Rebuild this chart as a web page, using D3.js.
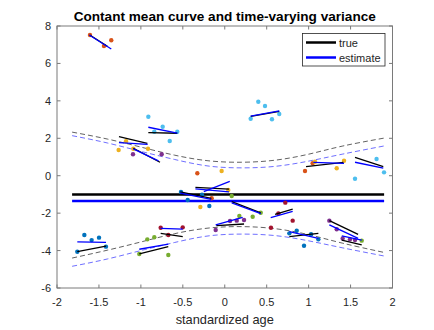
<!DOCTYPE html>
<html>
<head>
<meta charset="utf-8">
<script src="https://cdn.jsdelivr.net/npm/d3@7"></script>
<style>
  body { margin: 0; background: #fff; }
  svg text { font-family: "Liberation Sans", Arial, sans-serif; }
</style>
</head>
<body>
<div id="chart"></div>
<script>
// axis ticks
let xTicks = [-2, -1.5, -1, -0.5, 0, 0.5, 1, 1.5, 2];
let yTicks = [-6, -4, -2, 0, 2, 4, 6, 8];

// population mean lines
let meanX = [-1.82, 1.9];
let meanTrue = [-1, -1];
let meanEst = [-1.35, -1.35];

// variance bands
let bandX = [-1.82, -1.4, -1.0, -0.6, -0.2, 0.2, 0.6, 1.0, 1.4, 1.9];
let trueUpper = [2.33, 1.96, 1.53, 1.10, 0.80, 0.72, 0.83, 1.15, 1.58, 2.01];
let trueLower = [-4.40, -3.98, -3.54, -3.10, -2.80, -2.72, -2.83, -3.15, -3.60, -4.10];
let estUpper = [2.14, 1.75, 1.30, 0.87, 0.52, 0.42, 0.50, 0.78, 1.15, 1.59];
let estLower = [-4.84, -4.45, -4.00, -3.57, -3.22, -3.12, -3.20, -3.48, -3.85, -4.29];

// MATLAB default colour order
let palette = ["#0072BD", "#D95319", "#EDB120", "#7E2F8E", "#77AC30", "#4DBEEE", "#A2142F"];

// observations per subject: [colour index, [[x,y],...]]
let subjPoints = [
    [1, [[-1.607, 7.52], [-1.44, 6.93], [-1.353, 7.24]]],
    [5, [[0.400, 3.955], [0.480, 3.725], [0.309, 3.047], [0.563, 3.015], [0.650, 3.30]]],
    [5, [[-0.911, 3.153], [-0.740, 2.619], [-0.566, 2.352], [-0.656, 1.855], [-0.840, 2.352]]],
    [2, [[-1.265, 1.374], [-1.177, 1.839], [-1.090, 1.443], [-0.915, 1.443]]],
    [3, [[-1.094, 1.144], [-0.752, 1.144]]],
    [0, [[-0.522, -0.87], [-0.271, -1.013], [-0.442, -1.298], [-0.184, -1.618]]],
    [2, [[-0.291, -1.67], [0.042, -0.763], [-0.037, 0.252]]],
    [1, [[-0.327, 0.129], [-0.156, -1.207]]],
    [4, [[0.083, -1.084], [0.174, -2.15], [0.333, -2.19], [0.429, -1.976]]],
    [6, [[0.722, -1.44], [0.639, -2.01], [0.810, -2.40], [0.551, -2.78]]],
    [3, [[-0.108, -2.90], [0.063, -2.42], [0.143, -2.40], [0.230, -2.37]]],
    [0, [[0.770, -3.08], [0.858, -2.94], [1.029, -3.13], [1.116, -3.40], [0.945, -3.74]]],
    [3, [[1.247, -2.40], [1.335, -2.86]]],
    [3, [[1.406, -3.35], [1.493, -3.40], [1.553, -3.44]]],
    [4, [[1.633, -3.47]]],
    [5, [[1.81, 0.893], [1.899, 0.181], [1.553, -0.16]]],
    [1, [[0.957, 0.252], [1.048, 0.663]]],
    [2, [[1.076, 0.749], [1.335, 0.396], [1.422, 0.80]]],
    [0, [[-1.758, -4.06], [-1.674, -3.17], [-1.587, -3.44], [-1.499, -3.31], [-1.416, -3.79]]],
    [4, [[-1.019, -4.18], [-0.923, -3.40], [-0.840, -3.29], [-0.673, -4.24]]],
    [6, [[-0.764, -2.78], [-0.673, -3.17], [-0.501, -2.76]]]
];

// subject trajectories: true (black) and estimated (blue)
let trueSegs = [
    [[-1.61, 7.52], [-1.40, 6.92]],
    [[0.31, 3.17], [0.65, 3.44]],
    [[-0.911, 2.30], [-0.566, 2.27]],
    [[-1.261, 2.085], [-0.923, 1.732]],
    [[-1.09, 1.465], [-0.772, 0.717]],
    [[-0.53, -0.86], [-0.16, -1.21]],
    [[-0.35, -0.62], [0.05, -0.72]],
    [[0.083, -1.39], [0.429, -1.98]],
    [[0.60, -2.06], [0.81, -1.79]],
    [[-0.10, -2.67], [0.23, -2.58]],
    [[0.77, -3.26], [1.116, -3.08]],
    [[1.247, -2.40], [1.59, -3.13]],
    [[1.395, -3.44], [1.633, -3.70]],
    [[1.553, 0.98], [1.89, 0.48]],
    [[0.969, 0.482], [1.414, 0.717]],
    [[-1.758, -4.06], [-1.416, -3.76]],
    [[-1.019, -4.18], [-0.673, -3.79]],
    [[-0.764, -3.08], [-0.501, -3.26]]
];
let estSegs = [
    [[-1.615, 7.52], [-1.353, 6.77]],
    [[0.309, 3.19], [0.650, 3.47]],
    [[-0.911, 2.59], [-0.566, 2.27]],
    [[-1.261, 1.764], [-0.919, 1.679]],
    [[-1.09, 1.43], [-0.79, 0.79]],
    [[-0.53, -0.93], [-0.16, -1.26]],
    [[-0.35, -0.70], [0.05, -0.86]],
    [[-0.25, -0.85], [0.06, -0.30]],
    [[0.083, -1.45], [0.43, -2.02]],
    [[0.548, -2.24], [0.81, -1.90]],
    [[-0.108, -2.63], [0.214, -2.22]],
    [[0.770, -2.99], [1.116, -3.35]],
    [[1.247, -2.63], [1.59, -3.35]],
    [[1.395, -3.22], [1.633, -3.44]],
    [[1.553, 0.72], [1.89, 0.40]],
    [[1.056, 0.717], [1.422, 0.664]],
    [[-1.758, -3.53], [-1.416, -3.56]],
    [[-1.019, -3.93], [-0.673, -3.65]],
    [[-0.764, -2.81], [-0.501, -2.85]]
];

let width = 434, height = 330;
let plot = {left: 57, right: 392.5, top: 26, bottom: 288};
let axisColor = "#262626";

let svg = d3.select("#chart").append("svg")
    .attr("width", width)
    .attr("height", height);

let x = d3.scaleLinear().domain([-2, 2]).range([plot.left, plot.right]);
let y = d3.scaleLinear().domain([-6, 8]).range([plot.bottom, plot.top]);

// axes box with inward ticks on all four sides
let tick = 3.5;
let axes = svg.append("g");
axes.append("rect")
    .attr("x", plot.left).attr("y", plot.top)
    .attr("width", plot.right - plot.left).attr("height", plot.bottom - plot.top)
    .attr("fill", "none").attr("stroke", "#7a7a7a").attr("stroke-width", 1);

xTicks.forEach(function(t){
    axes.append("line").attr("x1", x(t)).attr("x2", x(t))
        .attr("y1", plot.bottom).attr("y2", plot.bottom - tick)
        .attr("stroke", "#7a7a7a");
    axes.append("line").attr("x1", x(t)).attr("x2", x(t))
        .attr("y1", plot.top).attr("y2", plot.top + tick)
        .attr("stroke", "#7a7a7a");
    axes.append("text").attr("x", x(t)).attr("y", plot.bottom + 18)
        .attr("text-anchor", "middle").attr("fill", axisColor)
        .style("font-size", "11px").text(t);
});
yTicks.forEach(function(t){
    axes.append("line").attr("y1", y(t)).attr("y2", y(t))
        .attr("x1", plot.left).attr("x2", plot.left + tick)
        .attr("stroke", "#7a7a7a");
    axes.append("line").attr("y1", y(t)).attr("y2", y(t))
        .attr("x1", plot.right).attr("x2", plot.right - tick)
        .attr("stroke", "#7a7a7a");
    axes.append("text").attr("x", plot.left - 6).attr("y", y(t) + 4)
        .attr("text-anchor", "end").attr("fill", axisColor)
        .style("font-size", "11px").text(t);
});

// title and label
svg.append("text").attr("x", (plot.left + plot.right) / 2).attr("y", 21)
    .attr("text-anchor", "middle").attr("fill", "#000")
    .style("font-size", "13.6px").style("font-weight", "bold")
    .text("Contant mean curve and time-varying variance");
svg.append("text").attr("x", (plot.left + plot.right) / 2).attr("y", 324)
    .attr("text-anchor", "middle").attr("fill", axisColor)
    .style("font-size", "12.8px")
    .text("standardized age");

// variance bands
let band = d3.line().x(d => x(d[0])).y(d => y(d[1])).curve(d3.curveNatural);
function drawBand(vals, color){
    svg.append("path")
        .datum(bandX.map((bx, i) => [bx, vals[i]]))
        .attr("d", band)
        .attr("fill", "none")
        .attr("stroke", color)
        .attr("stroke-width", 0.8)
        .attr("stroke-dasharray", "5,3");
}
drawBand(trueUpper, "#3a3a3a");
drawBand(trueLower, "#3a3a3a");
drawBand(estUpper, "#4a4aff");
drawBand(estLower, "#4a4aff");

// mean lines
let seg = d3.line().x(d => x(d[0])).y(d => y(d[1]));
svg.append("path").datum(meanX.map((mx, i) => [mx, meanTrue[i]]))
    .attr("d", seg).attr("stroke", "#000").attr("stroke-width", 2.5).attr("fill", "none");
svg.append("path").datum(meanX.map((mx, i) => [mx, meanEst[i]]))
    .attr("d", seg).attr("stroke", "#0000ff").attr("stroke-width", 2.5).attr("fill", "none");

// observations
subjPoints.forEach(function(s){
    svg.append("g").selectAll("circle")
        .data(s[1])
        .enter().append("circle")
        .attr("cx", d => x(d[0]))
        .attr("cy", d => y(d[1]))
        .attr("r", 2.2)
        .attr("fill", palette[s[0]]);
});

// individual trajectories
svg.append("g").selectAll("path")
    .data(trueSegs)
    .enter().append("path")
    .attr("d", seg)
    .attr("stroke", "#000").attr("stroke-width", 1.3).attr("fill", "none");
svg.append("g").selectAll("path")
    .data(estSegs)
    .enter().append("path")
    .attr("d", seg)
    .attr("stroke", "#0000ff").attr("stroke-width", 1.3).attr("fill", "none");

// legend
let legend = svg.append("g");
legend.append("rect")
    .attr("x", 302.5).attr("y", 33.5).attr("width", 82.5).attr("height", 32.5)
    .attr("fill", "#fff").attr("stroke", axisColor).attr("stroke-width", 0.8);
let legendItems = [["true", "#000"], ["estimate", "#0000ff"]];
legendItems.forEach(function(item, i){
    let ly = 42.5 + i * 15;
    legend.append("line").attr("x1", 306).attr("x2", 336).attr("y1", ly).attr("y2", ly)
        .attr("stroke", item[1]).attr("stroke-width", 2.5);
    legend.append("text").attr("x", 339).attr("y", ly + 4)
        .attr("fill", axisColor).style("font-size", "11px").text(item[0]);
});
</script>
</body>
</html>
